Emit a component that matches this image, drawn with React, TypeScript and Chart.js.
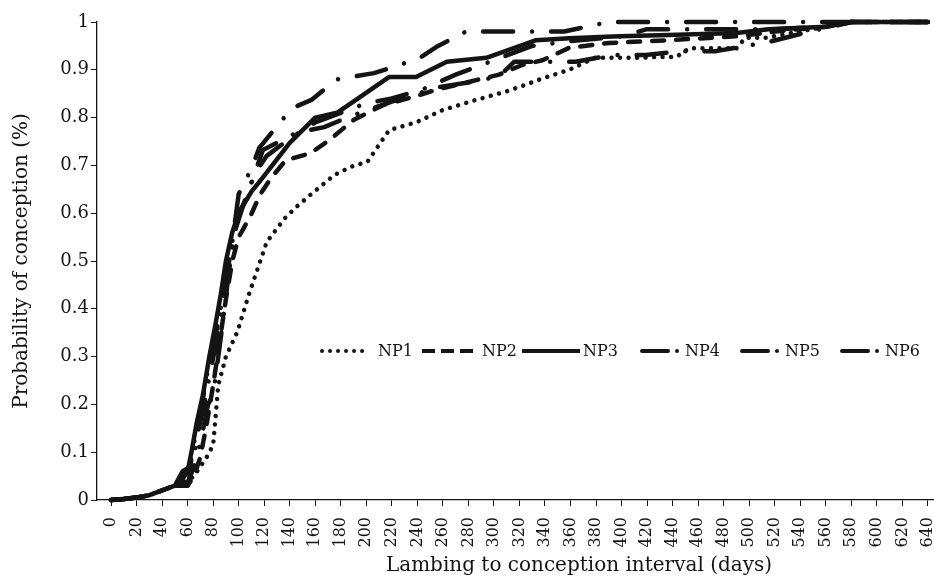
import React, { useEffect, useRef } from 'react';
import { Chart, registerables } from 'chart.js';

Chart.register(...registerables);

const seriesNames = ['NP1', 'NP2', 'NP3', 'NP4', 'NP5', 'NP6'];

const np1Days = [0, 10, 20, 30, 40, 50, 55, 60, 65, 70, 75, 80, 84, 90, 99, 108, 115, 122, 136, 146, 156, 175, 188, 201, 210, 218, 239, 260, 286, 310, 324, 338, 359, 379, 416, 427, 443, 453, 490, 497, 513, 539, 560, 580, 640];
const np1Prob = [0, 0.002, 0.005, 0.01, 0.02, 0.03, 0.035, 0.04, 0.05, 0.07, 0.09, 0.115, 0.24, 0.3, 0.352, 0.43, 0.485, 0.54, 0.589, 0.615, 0.638, 0.68, 0.697, 0.708, 0.743, 0.774, 0.79, 0.816, 0.837, 0.855, 0.868, 0.882, 0.9, 0.925, 0.925, 0.927, 0.927, 0.945, 0.945, 0.967, 0.967, 0.98, 0.99, 1, 1];

const np2Days = [0, 10, 20, 30, 40, 50, 55, 60, 65, 70, 75, 80, 85, 90, 95, 100, 109, 117, 126, 137, 156, 171, 190, 213, 239, 257, 281, 304, 322, 338, 359, 390, 437, 490, 520, 560, 580, 640];
const np2Prob = [0, 0.002, 0.005, 0.01, 0.02, 0.03, 0.03, 0.03, 0.05, 0.09, 0.16, 0.24, 0.33, 0.42, 0.5, 0.55, 0.593, 0.64, 0.676, 0.711, 0.725, 0.753, 0.795, 0.826, 0.845, 0.86, 0.875, 0.89, 0.91, 0.92, 0.946, 0.956, 0.962, 0.97, 0.98, 0.99, 1, 1];

const np3Days = [0, 10, 20, 30, 40, 50, 55, 60, 63, 67, 72, 77, 82, 86, 90, 95, 100, 110, 119, 140, 160, 177, 195, 218, 239, 263, 294, 310, 333, 359, 398, 437, 490, 515, 560, 580, 640];
const np3Prob = [0, 0.002, 0.005, 0.01, 0.02, 0.03, 0.04, 0.06, 0.1, 0.16, 0.22, 0.3, 0.37, 0.43, 0.5, 0.56, 0.6, 0.645, 0.675, 0.747, 0.8, 0.81, 0.843, 0.885, 0.885, 0.917, 0.925, 0.94, 0.962, 0.966, 0.97, 0.973, 0.977, 0.985, 0.99, 1, 1];

const np4Days = [0, 10, 20, 30, 40, 50, 56, 62, 65, 70, 75, 83, 90, 95, 98, 100, 105, 111, 116, 134, 142, 157, 177, 190, 206, 226, 243, 255, 278, 355, 390, 640];
const np4Prob = [0, 0.002, 0.005, 0.01, 0.02, 0.03, 0.06, 0.07, 0.12, 0.18, 0.26, 0.36, 0.46, 0.54, 0.6, 0.64, 0.666, 0.7, 0.736, 0.795, 0.82, 0.837, 0.88, 0.886, 0.893, 0.91, 0.927, 0.948, 0.98, 0.98, 1, 1];

const np5Days = [0, 10, 20, 30, 40, 50, 60, 65, 70, 76, 80, 84, 88, 92, 96, 100, 106, 112, 122, 142, 160, 180, 200, 220, 245, 270, 300, 330, 360, 400, 420, 520, 560, 580, 640];
const np5Prob = [0, 0.002, 0.005, 0.01, 0.02, 0.03, 0.035, 0.07, 0.12, 0.2, 0.22, 0.3, 0.38, 0.47, 0.55, 0.6, 0.63, 0.68, 0.72, 0.76, 0.79, 0.81, 0.83, 0.84, 0.86, 0.89, 0.92, 0.95, 0.96, 0.97, 0.985, 0.985, 0.99, 1, 1];

const np6Days = [0, 10, 20, 30, 40, 50, 60, 64, 68, 73, 78, 83, 88, 93, 98, 104, 112, 119, 145, 167, 185, 200, 224, 257, 283, 304, 316, 364, 393, 419, 447, 474, 502, 515, 540, 580, 640];
const np6Prob = [0, 0.002, 0.005, 0.01, 0.02, 0.03, 0.03, 0.08, 0.14, 0.2, 0.27, 0.34, 0.42, 0.5, 0.57, 0.62, 0.68, 0.732, 0.768, 0.78, 0.8, 0.815, 0.837, 0.864, 0.875, 0.886, 0.917, 0.917, 0.931, 0.931, 0.939, 0.939, 0.952, 0.958, 0.975, 1, 1];

const xTickValues = [0, 20, 40, 60, 80, 100, 120, 140, 160, 180, 200, 220, 240, 260, 280, 300, 320, 340, 360, 380, 400, 420, 440, 460, 480, 500, 520, 540, 560, 580, 600, 620, 640];
const yTickValues = [0, 0.1, 0.2, 0.3, 0.4, 0.5, 0.6, 0.7, 0.8, 0.9, 1];
const yTickLabels = ['0', '0.1', '0.2', '0.3', '0.4', '0.5', '0.6', '0.7', '0.8', '0.9', '1'];

const xTitle = 'Lambing to conception interval (days)';
const yTitle = 'Probability of conception (%)';

const allDays = [np1Days, np2Days, np3Days, np4Days, np5Days, np6Days];
const allProb = [np1Prob, np2Prob, np3Prob, np4Prob, np5Prob, np6Prob];

// styles
const INK = '#141414';
const FONT = '"DejaVu Serif", serif';
const lineDash = [[0.01, 8.5], [12, 12], [], [30, 19, 0.01, 19], [30, 19, 0.01, 19], [30, 19, 0.01, 19]];
const lineCaps: CanvasLineCap[] = ['round', 'round', 'round', 'round', 'round', 'round'];
const legendDash = [[0.01, 8], [13, 6], [], [26, 9, 0.01, 9], [26, 9, 0.01, 9], [26, 9, 0.01, 9]];
const legendCaps: CanvasLineCap[] = ['round', 'butt', 'butt', 'round', 'round', 'round'];
const legendStart = [0, 0, 0, 20, 20, 20];
const legendEnd = [48, 51, 58, 57, 57, 57];
const legendTextX = [56, 60, 61, 63, 63, 63];

const overlayPlugin = {
  id: 'overlay',
  afterDraw(chart: any) {
    const ctx: CanvasRenderingContext2D = chart.ctx;
    ctx.save();
    // legend
    seriesNames.forEach((name, i) => {
      const x0 = 322 + 100 * i;
      const y = 351;
      ctx.beginPath();
      ctx.setLineDash(legendDash[i]);
      ctx.lineCap = legendCaps[i];
      ctx.lineWidth = 4;
      ctx.strokeStyle = INK;
      ctx.moveTo(x0 + legendStart[i], y);
      ctx.lineTo(x0 + legendEnd[i], y);
      ctx.stroke();
      ctx.setLineDash([]);
      ctx.fillStyle = INK;
      ctx.font = '16px ' + FONT;
      ctx.textBaseline = 'middle';
      ctx.textAlign = 'left';
      ctx.fillText(name, x0 + legendTextX[i], y + 1);
    });
    // axis titles
    ctx.fillStyle = INK;
    ctx.font = '20px ' + FONT;
    ctx.textAlign = 'center';
    ctx.textBaseline = 'middle';
    ctx.fillText(xTitle, 579, 566);
    ctx.translate(22, 261);
    ctx.rotate(-Math.PI / 2);
    ctx.fillText(yTitle, 0, 0);
    ctx.restore();
  },
};

export default function App() {
  const canvasRef = useRef<HTMLCanvasElement | null>(null);

  useEffect(() => {
    if (!canvasRef.current) return;
    const datasets = seriesNames.map((name, i) => ({
      label: name,
      data: allDays[i].map((d, j) => ({ x: d, y: allProb[i][j] })),
      borderColor: INK,
      backgroundColor: INK,
      borderWidth: 4.5,
      borderDash: lineDash[i],
      borderCapStyle: lineCaps[i],
      borderJoinStyle: 'round' as const,
      pointRadius: 0,
      pointHoverRadius: 0,
      tension: 0,
      fill: false,
      clip: false as any,
    }));

    const chart = new Chart(canvasRef.current, {
      type: 'line',
      data: { datasets },
      plugins: [overlayPlugin],
      options: {
        animation: false,
        responsive: false,
        events: [],
        layout: { padding: { top: 22, right: 1, left: 0, bottom: 0 } },
        plugins: {
          legend: { display: false },
          tooltip: { enabled: false },
          title: { display: false },
        },
        scales: {
          x: {
            type: 'linear',
            min: -11,
            max: 644,
            afterFit: (s: any) => { s.height = 87; s.paddingLeft = 0; s.paddingRight = 0; },
            afterBuildTicks: (s: any) => { s.ticks = xTickValues.map((v) => ({ value: v })); },
            grid: { drawOnChartArea: false, drawTicks: true, tickLength: 6, color: INK, lineWidth: 1 },
            border: { display: true, color: INK, width: 1.3 },
            ticks: {
              color: INK,
              font: { family: FONT, size: 16 },
              minRotation: 90,
              maxRotation: 90,
              padding: 11,
              autoSkip: false,
              callback: (v: any) => String(v),
            },
          },
          y: {
            type: 'linear',
            min: 0,
            max: 1,
            afterFit: (s: any) => { s.width = 97; s.paddingTop = 0; s.paddingBottom = 0; },
            afterBuildTicks: (s: any) => { s.ticks = yTickValues.map((v) => ({ value: v })); },
            grid: { drawOnChartArea: false, drawTicks: true, tickLength: 6, color: INK, lineWidth: 1 },
            border: { display: true, color: INK, width: 1.3 },
            ticks: {
              color: INK,
              font: { family: FONT, size: 18 },
              padding: 2,
              autoSkip: false,
              callback: (v: any) => {
                const idx = yTickValues.findIndex((t) => Math.abs(t - v) < 1e-6);
                return idx >= 0 ? yTickLabels[idx] : '';
              },
            },
          },
        },
      },
    });
    return () => chart.destroy();
  }, []);

  return (
    <div style={{ position: 'fixed', left: 0, top: 0, width: 934, height: 587, background: '#fff' }}>
      <canvas ref={canvasRef} width={934} height={587} style={{ display: 'block', width: 934, height: 587 }} />
    </div>
  );
}
